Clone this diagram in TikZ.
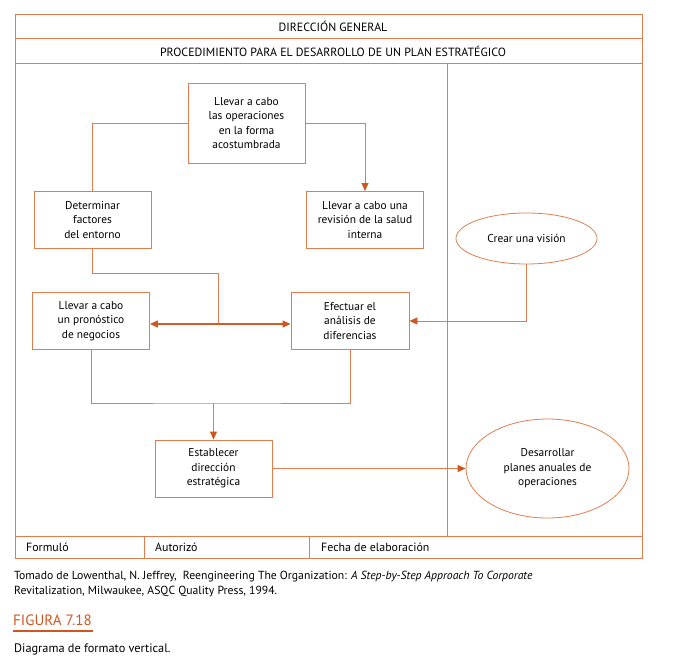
\documentclass[tikz,border=0pt]{standalone}
\usepackage{fontspec}
\setmainfont{PT Sans}
\usetikzlibrary{arrows.meta}
\usetikzlibrary{shapes.geometric}
\definecolor{frameorange}{RGB}{224,126,78}
\definecolor{arroworange}{RGB}{208,86,32}
\tikzset{
	stepbox/.style={draw=frameorange, line width=0.9pt, align=center, inner sep=0pt,
		minimum width=117pt, minimum height=57pt, font=\fontsize{11.4}{14.5}\selectfont},
	goaloval/.style={ellipse, draw=frameorange, line width=0.8pt, align=center, inner sep=0pt,
		font=\fontsize{11.4}{14.5}\selectfont},
	link/.style={draw=frameorange, line width=0.9pt},
	tip/.style={-{Triangle[length=8pt,width=7pt,color=arroworange]}},
	flow/.style={link, tip},
	label/.style={inner sep=0pt, font=\fontsize{11.9}{13}\selectfont},
	credit/.style={inner sep=0pt, anchor=base west, font=\fontsize{11.7}{13}\selectfont},
}

\begin{document}
\begin{tikzpicture}[x=1pt,y=-1pt]
		\useasboundingbox (0,0) rectangle (676,660);
		% form frame
		\draw[frameorange, line width=1pt] (15,14.5) rectangle (642,558);
		\draw[frameorange, line width=1pt] (15,39) -- (642,39);
		\draw[frameorange, line width=1pt] (15,64) -- (642,64);
		\draw[frameorange, line width=0.9pt] (447,64) -- (447,536);
		\draw[frameorange, line width=1pt] (15,536) -- (642,536);
		\draw[frameorange, line width=0.9pt] (144,536) -- (144,558);
		\draw[frameorange, line width=0.9pt] (309,536) -- (309,558);
		\node[label] (hdept) at (333,26.5) {DIRECCIÓN GENERAL};
		\node[label] (hproc) at (333,51.5) {PROCEDIMIENTO PARA EL DESARROLLO DE UN PLAN ESTRATÉGICO};
		\node[label, anchor=west] (formulo) at (26,547) {Formuló};
		\node[label, anchor=west] (autorizo) at (155,547) {Autorizó};
		\node[label, anchor=west] (fecha) at (321,547) {Fecha de elaboración};

		% steps
		\node[stepbox, minimum height=80pt] (ops) at (246.5,123) {Llevar a cabo\\las operaciones\\en la forma\\acostumbrada};
		\node[stepbox] (entorno) at (92.5,220) {Determinar\\factores\\del entorno};
		\node[stepbox] (salud) at (365,220) {Llevar a cabo una\\revisión de la salud\\interna};
		\node[stepbox] (pronostico) at (91,321) {Llevar a cabo\\un pronóstico\\de negocios};
		\node[stepbox, minimum width=118pt] (brecha) at (350,321) {Efectuar el\\análisis de\\diferencias};
		\node[stepbox] (direccion) at (213.5,468.5) {Establecer\\dirección\\estratégica};
		\node[goaloval, minimum width=141pt, minimum height=51pt] (vision) at (526.5,238.5) {Crear una visión};
		\node[goaloval, minimum width=163pt, minimum height=99pt] (planes) at (547.5,468.5) {Desarrollar\\planes anuales de\\operaciones};

		% connectors
		\coordinate (joinup) at (218,273);
		\coordinate (joindown) at (213.5,403);
		\draw[link] (ops.west) -| (entorno.north);
		\draw[flow] (ops.east) -| (salud.north);
		\draw[link] (entorno.south) |- (joinup) -- (218,324);
		\draw[link, line width=1.3pt, draw=arroworange!85!frameorange,
			{Triangle[length=8pt,width=7pt,color=arroworange]}-{Triangle[length=8pt,width=7pt,color=arroworange]}]
			([yshift=-3pt]pronostico.east) -- ([yshift=-3pt]brecha.west);
		\draw[flow] (vision.south) |- (brecha.east);
		\draw[link] (pronostico.south) |- (joindown) -| (brecha.south);
		\draw[flow] (joindown) -- (direccion.north);
		\draw[flow, line width=1.1pt] (direccion.east) -- (planes.west);

		% caption
		\node[credit] (fuente1) at (14,579)
			{Tomado de Lowenthal, N. Jeffrey,\ \ Reengineering The Organization: \textit{A Step-by-Step Approach To Corporate}};
		\node[credit] (fuente2) at (14,594)
			{Revitalization, Milwaukee, ASQC Quality Press, 1994.};
		\node[credit, text=arroworange, font=\fontsize{15}{16}\selectfont] (figura) at (13,625) {FIGURA 7.18};
		\draw[arroworange, line width=2pt] (13,631) -- (93,631);
		\node[credit, font=\fontsize{12.3}{13}\selectfont] (titulo) at (14,652) {Diagrama de formato vertical.};
	\end{tikzpicture}
\end{document}
